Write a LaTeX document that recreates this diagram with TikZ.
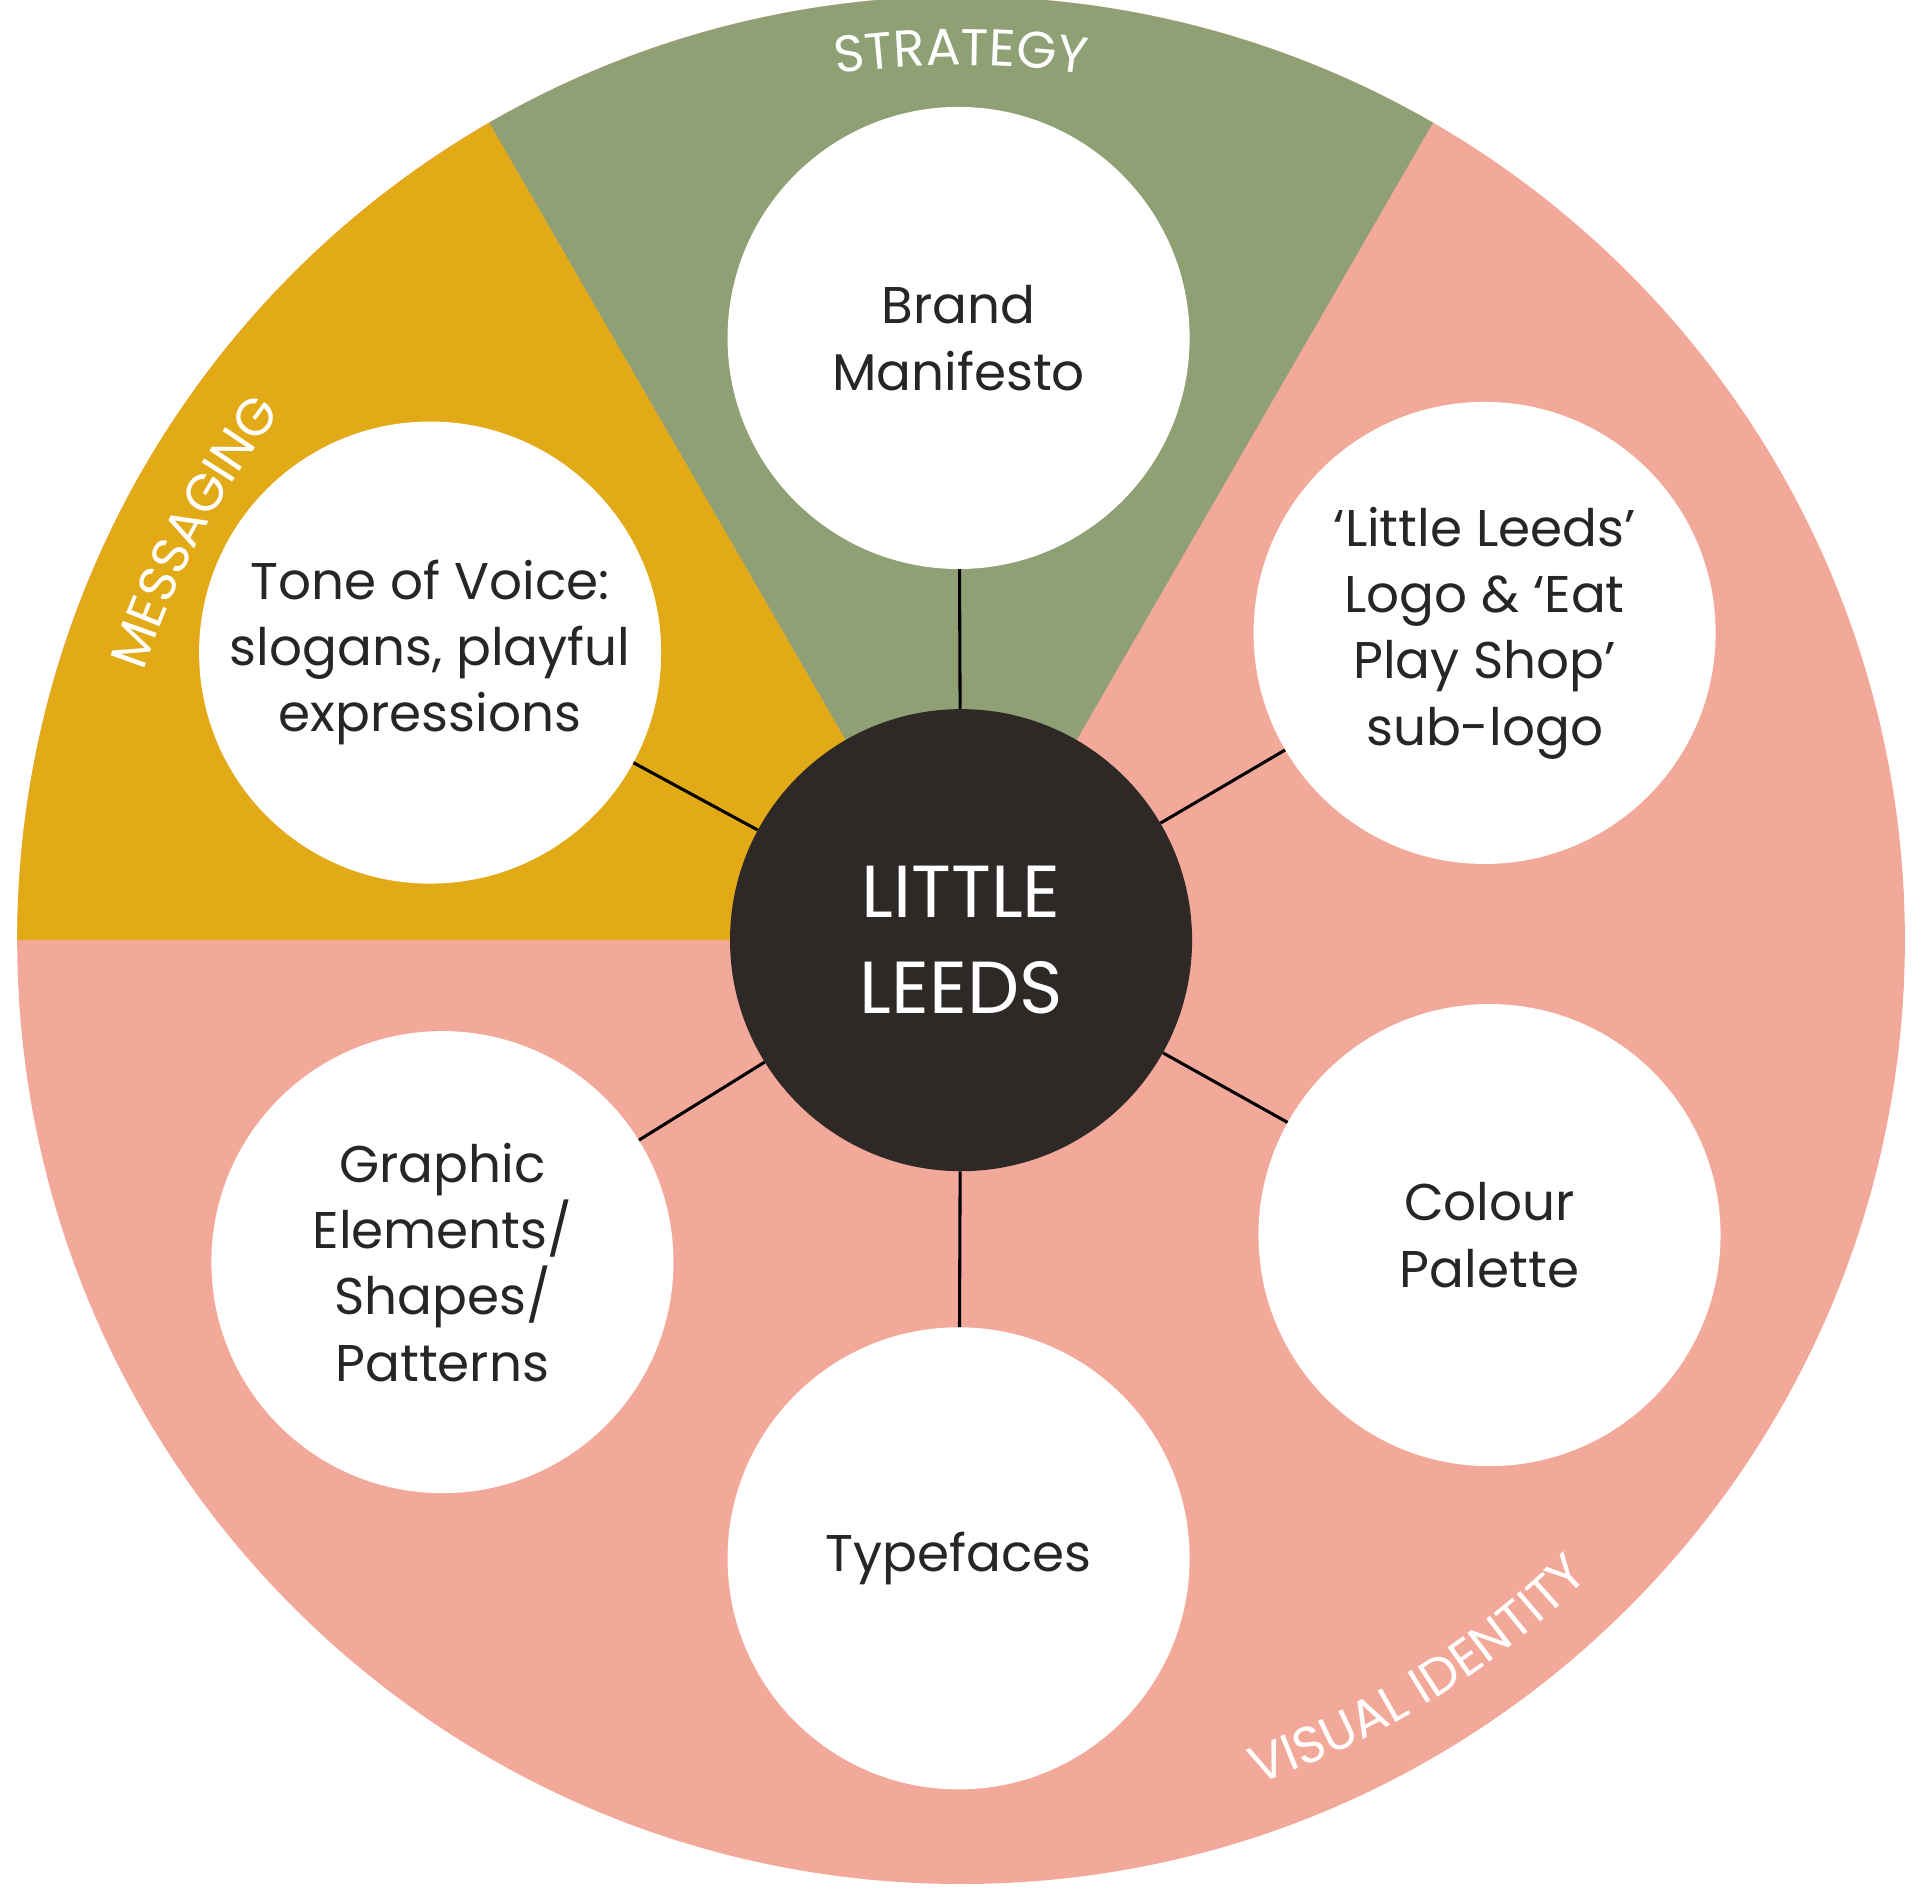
\documentclass[tikz,border=0pt]{standalone}
\usepackage{fontspec}
\setmainfont{Poppins}
\usetikzlibrary{decorations.text,calc}
\definecolor{grn}{HTML}{90A075}
\definecolor{gld}{HTML}{E3AA17}
\definecolor{pnk}{HTML}{F2A99A}
\definecolor{drk}{HTML}{2E2926}
\begin{document}
\begin{tikzpicture}[x=1pt,y=-1pt,
  bub/.style={circle,fill=white,minimum size=376pt,inner sep=0pt,align=center,font=\fontsize{42}{54}\selectfont,text=black!85},
  link/.style={line width=2.5pt,black}]
\useasboundingbox (0,0) rectangle (1568,1536);
\coordinate (O) at (782,765);
\fill[pnk] (O) circle[radius=768];
\fill[grn] (O) -- ++(-60:768) arc[start angle=-60,end angle=-120,radius=768] -- cycle;
\fill[gld] (O) -- ++(-120:768) arc[start angle=-120,end angle=-180,radius=768] -- cycle;
\node[bub] (bm) at (780,275) {Brand\\Manifesto};
\node[bub] (ll) at (1208,515) {`Little Leeds'\\Logo \& `Eat\\Play Shop'\\sub-logo};
\node[bub] (cp) at (1212,1005) {Colour\\Palette};
\node[bub] (tf) at (780,1268) {Typefaces};
\node[bub] (ge) at (360,1027) {Graphic\\Elements/\\Shapes/\\Patterns};
\node[bub] (tv) at (350,531) {Tone of Voice:\\slogans, playful\\expressions};
\node[circle,fill=drk,minimum size=376pt,inner sep=0pt,align=center,text=white,font=\fontsize{60}{78}\selectfont] (c) at (O) {LITTLE\\LEEDS};
\foreach \n in {bm,ll,cp,tf,ge,tv} \draw[link] (c) -- (\n);
\path[decorate,decoration={text along path,text align=center,text={|\color{white}\fontsize{42}{44}\selectfont|STRATEGY}}]
  ($(O)+(-110:712)$) arc[start angle=-110,end angle=-70,radius=712];
\path[decorate,decoration={text along path,text align=center,text={|\color{white}\fontsize{42}{44}\selectfont|MESSAGING}}]
  ($(O)+(-175:700)$) arc[start angle=-175,end angle=-129,radius=700];
\path[decorate,decoration={text along path,text align=center,text={|\color{white}\fontsize{42}{44}\selectfont|VISUAL IDENTITY}}]
  ($(O)+(80:728)$) arc[start angle=80,end angle=36,radius=728];
\end{tikzpicture}
\end{document}
